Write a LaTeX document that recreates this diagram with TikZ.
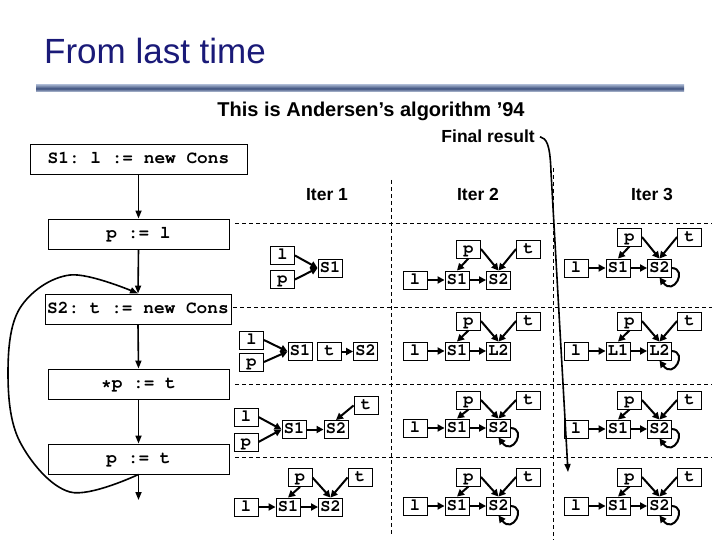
\documentclass[tikz,border=0pt]{standalone}
\usepackage[T1,TU]{fontenc}
\usepackage{fontspec}
\setmainfont{Liberation Sans}
\newcommand\cour{\fontencoding{T1}\fontfamily{pcr}\fontseries{b}\fontshape{n}\selectfont\frenchspacing}
\usetikzlibrary{arrows.meta,shadings}
\definecolor{titleblue}{RGB}{26,26,120}
\definecolor{barA}{RGB}{150,165,195}
\definecolor{barB}{RGB}{60,80,125}
\definecolor{barC}{RGB}{190,200,220}

\newcommand\stdgraph[6]{%
  \node[gb] (#1l) at (#2,#3) {l};
  \node[gb] (#1a) at (#2+42,#3) {#4};
  \node[gb] (#1b) at (#2+83.5,#3) {#5};
  \node[gb] (#1p) at (#2+53.5,#6) {p};
  \node[gb] (#1t) at (#2+113.5,#6) {t};
  \draw[ga] (#1l.east) -- (#1a.west);
  \draw[ga] (#1a.east) -- (#1b.west);
  \draw[ga] (#1p.south) -- (#1a.north);
  \draw[ga] (#1p.east) -- (#1b.north);
  \draw[ga] (#1t.west) -- (#1b.north);
}
\newcommand\selfloop[1]{%
  \draw[ga] (#1.east) .. controls +(16,1) and +(14,19) .. (#1.south);
}

\begin{document}
\begin{tikzpicture}[x=1pt,y=-1pt,
  gb/.style={draw, line width=0.9pt, minimum width=24pt, minimum height=18pt,
    inner sep=0pt, text height=9.5pt, text depth=1.5pt,
    font=\cour\fontsize{17}{17}\selectfont},
  cb/.style={draw, line width=0.9pt, minimum height=30pt, inner sep=0pt,
    text height=11pt, text depth=2pt,
    font=\cour\fontsize{17.8}{17.8}\selectfont},
  ga/.style={line width=2pt, -{Triangle[length=7pt,width=7pt]}},
  ca/.style={line width=1.6pt, -{Triangle[length=8pt,width=6pt]}},
  dl/.style={line width=0.8pt, dash pattern=on 4pt off 3pt},
  lbl/.style={font=\bfseries\fontsize{17.5}{17.5}\selectfont, inner sep=0pt},
]
\useasboundingbox (0,0) rectangle (720,540);

% title and rule
\node[anchor=base west, inner sep=0pt, text=titleblue,
  font=\fontsize{35}{35}\selectfont] (title) at (44,64) {From last time};
\shade[top color=barA, bottom color=barC, middle color=barB] (36,85) rectangle (684,92);

\node[anchor=base, lbl, font=\bfseries\fontsize{20}{20}\selectfont] (sub) at (371,117) {This is Andersen’s algorithm ’94};
\node[anchor=base east, lbl] (fr) at (535,143) {Final result};
\coordinate (frend) at (568,472);
\draw[ca] ([xshift=5pt]fr.east) .. controls +(6,2) and (550,142) .. (551,172) -- (frend);

\node[anchor=base, lbl] (it1) at (327,201) {Iter 1};
\node[anchor=base, lbl] (it2) at (478,201) {Iter 2};
\node[anchor=base, lbl] (it3) at (652,201) {Iter 3};

% code boxes
\node[cb, minimum width=217pt] (c1) at (138.5,159) {S1: l := new Cons};
\node[cb, minimum width=181pt] (c2) at (138.5,234) {p := l};
\node[cb, minimum width=186pt] (c3) at (138,309) {S2: t := new Cons};
\node[cb, minimum width=181pt] (c4) at (138.5,384) {*p := t};
\node[cb, minimum width=181pt] (c5) at (138.5,459) {p := t};
\coordinate (cend) at (138.5,500);
\draw[ca] (c1.south) -- (c2.north);
\draw[ca] (c2.south) -- (c3.north);
\draw[ca] (c3.south) -- (c4.north);
\draw[ca] (c4.south) -- (c5.north);
\draw[ca] (c5.south) -- (cend);
\draw[ca] plot[smooth, tension=0.6] coordinates {(c5.south) (70,492) (20,442) (8,373) (20,308) (70,275) (c3.north)};

% grid of dashed lines
\draw[dl] (235,223) -- (712,223);
\draw[dl] (233,307) -- (712,307);
\draw[dl] (235,384) -- (712,384);
\draw[dl] (235,457) -- (712,457);
\draw[dl] (391,180) -- (391,535);
\draw[dl] (553,168) -- (553,540);

% Iter 1, row 1
\node[gb] (aal) at (282.5,255.5) {l};
\node[gb] (aap) at (282.5,279.5) {p};
\node[gb] (aas) at (330,268) {S1};
\draw[ga] (aal.east) -- (aas.west);
\draw[ga] (aap.east) -- (aas.west);

% Iter 1, row 2
\node[gb] (abl) at (251.5,340) {l};
\node[gb] (abp) at (251.5,362) {p};
\node[gb] (abs) at (300,351.5) {S1};
\node[gb] (abt) at (329.5,351.5) {t};
\node[gb] (abu) at (365.5,351.5) {S2};
\draw[ga] (abl.east) -- (abs.west);
\draw[ga] (abp.east) -- (abs.west);
\draw[ga] (abt.east) -- (abu.west);

% Iter 1, row 3
\node[gb] (acl) at (246,417) {l};
\node[gb] (acp) at (246,442) {p};
\node[gb] (acs) at (294,429.5) {S1};
\node[gb] (acu) at (336,429.5) {S2};
\node[gb] (act) at (366,405.5) {t};
\draw[ga] (acl.east) -- (acs.west);
\draw[ga] (acp.east) -- (acs.west);
\draw[ga] (acs.east) -- (acu.west);
\draw[ga] (act.west) -- (acu.north);

% Iter 1, row 4
\node[gb] (adp) at (300,477.5) {p};
\node[gb] (adt) at (360,477.5) {t};
\node[gb] (adl) at (246,507) {l};
\node[gb] (ads) at (288,507) {S1};
\node[gb] (adu) at (330.5,507) {S2};
\draw[ga] (adl.east) -- (ads.west);
\draw[ga] (ads.east) -- (adu.west);
\draw[ga] (adp.south) -- (ads.north);
\draw[ga] (adp.east) -- (adu.north);
\draw[ga] (adt.west) -- (adu.north);

% Iter 2
\stdgraph{ba}{415}{280}{S1}{S2}{249}
\stdgraph{bb}{415}{351}{S1}{L2}{321}
\stdgraph{bc}{415}{428}{S1}{S2}{400}
\selfloop{bcb}
\stdgraph{bd}{415}{506}{S1}{S2}{477}
\selfloop{bdb}

% Iter 3
\stdgraph{ca}{576}{268}{S1}{S2}{237}
\selfloop{cab}
\stdgraph{cb}{576}{351}{L1}{L2}{321}
\selfloop{cbb}
\stdgraph{cc}{576}{429}{S1}{S2}{400}
\selfloop{ccb}
\stdgraph{cd}{576}{506}{S1}{S2}{477}
\selfloop{cdb}
\end{tikzpicture}
\end{document}
